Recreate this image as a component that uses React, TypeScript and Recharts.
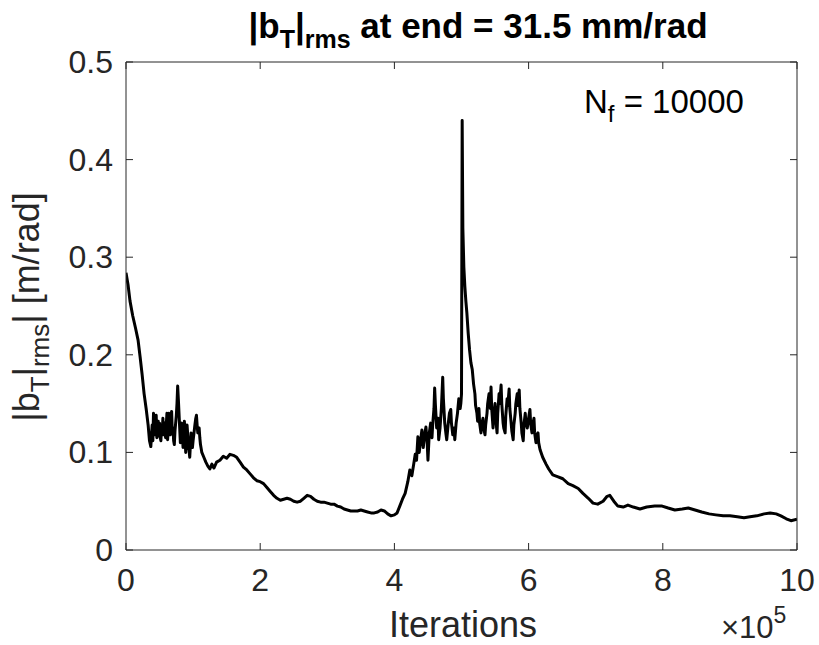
import React from "react";
import { LineChart, Line, XAxis, YAxis, Customized } from "recharts";

// Iterations in units of 1e5
const iterations = [
  0, 0.03, 0.06, 0.1, 0.14, 0.18, 0.21, 0.24, 0.27, 0.3, 0.33, 0.35,
  0.37, 0.38, 0.39, 0.4, 0.41, 0.42, 0.43, 0.44, 0.45, 0.46,
  0.47, 0.48, 0.49, 0.5, 0.51, 0.52, 0.53, 0.54, 0.55, 0.56,
  0.57, 0.58, 0.59, 0.6, 0.61, 0.62, 0.63, 0.64, 0.65, 0.66,
  0.67, 0.68, 0.69, 0.7, 0.71, 0.72, 0.73, 0.74, 0.75, 0.76,
  0.77, 0.78, 0.79, 0.8, 0.81, 0.82, 0.83, 0.84, 0.85, 0.86,
  0.87, 0.88, 0.89, 0.9, 0.91, 0.92, 0.93, 0.94, 0.95, 0.96,
  0.97, 0.98, 0.99, 1.0, 1.01, 1.02, 1.03, 1.04, 1.05, 1.06,
  1.07, 1.08, 1.09, 1.1, 1.11, 1.12, 1.13,
  1.16, 1.19, 1.22, 1.25, 1.28, 1.31, 1.35, 1.4, 1.45, 1.5,
  1.55, 1.6, 1.65, 1.7, 1.75, 1.8, 1.85, 1.9, 1.95, 2.0,
  2.05, 2.1, 2.15, 2.2, 2.25, 2.3, 2.35, 2.4, 2.45, 2.5,
  2.55, 2.6, 2.65, 2.7, 2.75, 2.8, 2.85, 2.9, 2.95, 3.0,
  3.05, 3.1, 3.15, 3.2, 3.25, 3.3, 3.35, 3.4, 3.45, 3.5,
  3.55, 3.6, 3.65, 3.7, 3.75, 3.8, 3.85, 3.9, 3.95, 4.0,
  4.04, 4.08, 4.12, 4.16, 4.2, 4.23, 4.26,
  4.29, 4.31, 4.33, 4.35, 4.37, 4.39, 4.41, 4.43, 4.45, 4.47,
  4.49, 4.5, 4.52, 4.54, 4.56, 4.57, 4.59, 4.6, 4.61, 4.63,
  4.65, 4.66, 4.68, 4.7, 4.72, 4.73, 4.75, 4.77, 4.78, 4.8,
  4.82, 4.84, 4.85, 4.87, 4.89, 4.9, 4.92, 4.94, 4.96, 4.98,
  4.99, 5.0, 5.01, 5.02, 5.035, 5.05, 5.065, 5.08, 5.1, 5.12,
  5.14, 5.16, 5.18, 5.2, 5.21, 5.23, 5.24, 5.26, 5.27, 5.29,
  5.3, 5.32, 5.33, 5.35, 5.36, 5.38, 5.39, 5.41, 5.43, 5.44,
  5.45, 5.47, 5.48, 5.5, 5.51, 5.53, 5.54, 5.56, 5.57, 5.59,
  5.6, 5.62, 5.63, 5.65, 5.66, 5.68, 5.69, 5.71, 5.72, 5.74,
  5.75, 5.77, 5.78, 5.8, 5.81, 5.83, 5.84, 5.86, 5.87, 5.89,
  5.9, 5.92, 5.93, 5.95, 5.96, 5.98, 6.0, 6.02, 6.03, 6.05,
  6.06, 6.08, 6.09, 6.11, 6.12, 6.14, 6.15, 6.17,
  6.21, 6.26, 6.3, 6.36, 6.44, 6.51, 6.59, 6.66, 6.74, 6.81,
  6.89, 6.96, 7.03, 7.11, 7.17, 7.21, 7.27, 7.33, 7.41, 7.48,
  7.56, 7.66, 7.76, 7.88, 7.99, 8.08, 8.18, 8.29, 8.38, 8.48,
  8.58, 8.69, 8.79, 8.9, 9.0, 9.11, 9.21, 9.3, 9.4, 9.51,
  9.6, 9.69, 9.76, 9.84, 9.91, 10.0,
];

// |b_T|_rms in m/rad
const bTrms = [
  0.284, 0.272, 0.255, 0.24, 0.228, 0.215, 0.198, 0.18, 0.16, 0.145, 0.128, 0.112,
  0.106, 0.118, 0.128, 0.112, 0.14, 0.125, 0.118, 0.135, 0.138, 0.115,
  0.118, 0.132, 0.125, 0.13, 0.115, 0.112, 0.128, 0.122, 0.135, 0.118,
  0.12, 0.13, 0.115, 0.128, 0.14, 0.113, 0.125, 0.14, 0.126, 0.118,
  0.135, 0.142, 0.12, 0.125, 0.112, 0.108, 0.122, 0.13, 0.138, 0.15,
  0.168, 0.155, 0.14, 0.125, 0.11, 0.122, 0.13, 0.118, 0.105, 0.12,
  0.132, 0.115, 0.1, 0.112, 0.128, 0.118, 0.108, 0.102, 0.095, 0.108,
  0.12, 0.112, 0.105, 0.112, 0.118, 0.124, 0.13, 0.135, 0.138, 0.128,
  0.12, 0.123, 0.125, 0.115, 0.108, 0.104, 0.1,
  0.095, 0.09, 0.086, 0.083, 0.088, 0.084, 0.09, 0.092, 0.096, 0.094,
  0.098, 0.097, 0.095, 0.09, 0.085, 0.082, 0.078, 0.074, 0.071, 0.07,
  0.068, 0.064, 0.06, 0.056, 0.053, 0.051, 0.052, 0.053, 0.052, 0.05,
  0.049, 0.05, 0.053, 0.056, 0.055, 0.052, 0.05, 0.049, 0.049, 0.048,
  0.047, 0.047, 0.045, 0.044, 0.042, 0.041, 0.04, 0.04, 0.04, 0.041,
  0.04, 0.039, 0.038, 0.038, 0.039, 0.041, 0.04, 0.037, 0.035, 0.036,
  0.038, 0.045, 0.052, 0.058, 0.07, 0.082, 0.076,
  0.089, 0.098, 0.092, 0.116, 0.1, 0.112, 0.123, 0.105, 0.118, 0.126,
  0.108, 0.092, 0.12, 0.13, 0.115, 0.128, 0.145, 0.166, 0.15, 0.125,
  0.135, 0.113, 0.125, 0.145, 0.177, 0.155, 0.13, 0.118, 0.113, 0.128,
  0.14, 0.144, 0.13, 0.118, 0.125, 0.113, 0.13, 0.14, 0.155, 0.145,
  0.15, 0.16, 0.44, 0.33, 0.29, 0.27, 0.255, 0.243, 0.222, 0.205,
  0.192, 0.185, 0.17, 0.16, 0.148, 0.14, 0.132, 0.145, 0.13, 0.12,
  0.128, 0.135, 0.125, 0.118, 0.128, 0.14, 0.15, 0.16, 0.145, 0.167,
  0.145, 0.125, 0.138, 0.15, 0.135, 0.12, 0.14, 0.16, 0.15, 0.169,
  0.15, 0.13, 0.125, 0.12, 0.138, 0.155, 0.148, 0.165, 0.145, 0.13,
  0.122, 0.113, 0.128, 0.14, 0.15, 0.16, 0.148, 0.164, 0.145, 0.13,
  0.12, 0.112, 0.128, 0.14, 0.13, 0.125, 0.135, 0.144, 0.13, 0.12,
  0.128, 0.135, 0.12, 0.11, 0.118, 0.12, 0.11, 0.103,
  0.095, 0.088, 0.083, 0.077, 0.075, 0.073, 0.068, 0.066, 0.063, 0.058,
  0.053, 0.048, 0.047, 0.05, 0.055, 0.056, 0.05, 0.045, 0.044, 0.046,
  0.044, 0.042, 0.044, 0.045, 0.045, 0.043, 0.041, 0.042, 0.043, 0.041,
  0.039, 0.037, 0.036, 0.035, 0.035, 0.034, 0.033, 0.034, 0.035, 0.037,
  0.038, 0.037, 0.035, 0.032, 0.03, 0.0315,
];

const xTicks = [0, 2, 4, 6, 8, 10];
const yTicks = [0, 0.1, 0.2, 0.3, 0.4, 0.5];

const n = Math.min(iterations.length, bTrms.length);
const data = iterations.slice(0, n).map((x, i) => ({ x, y: bTrms[i] }));

const AXIS = "#262626";
const FONT = "'Liberation Sans', Arial, Helvetica, sans-serif";
const TICK_FS = 32;
const TICK_LEN = 7;

const BottomTick = (p: any) => (
  <g>
    <line x1={p.x} y1={p.y} x2={p.x} y2={p.y - TICK_LEN} stroke={AXIS} strokeWidth={1} />
    <text x={p.x} y={p.y + 41} textAnchor="middle" fill={AXIS} fontSize={TICK_FS} fontFamily={FONT}>
      {String(p.payload.value)}
    </text>
  </g>
);
const TopTick = (p: any) => (
  <line x1={p.x} y1={p.y} x2={p.x} y2={p.y + TICK_LEN} stroke={AXIS} strokeWidth={1} />
);
const LeftTick = (p: any) => (
  <g>
    <line x1={p.x} y1={p.y} x2={p.x + TICK_LEN} y2={p.y} stroke={AXIS} strokeWidth={1} />
    <text x={p.x - 13} y={p.y + 11} textAnchor="end" fill={AXIS} fontSize={TICK_FS} fontFamily={FONT}>
      {String(p.payload.value)}
    </text>
  </g>
);
const RightTick = (p: any) => (
  <line x1={p.x} y1={p.y} x2={p.x - TICK_LEN} y2={p.y} stroke={AXIS} strokeWidth={1} />
);

const Annotations = () => (
  <g fontFamily={FONT}>
    <text x={478} y={38} textAnchor="middle" fontWeight="bold" fontSize={35} fill="#000">
      |b<tspan dy={10} fontSize={25}>T</tspan>
      <tspan dy={-10}>|</tspan>
      <tspan dy={10} fontSize={25}>rms</tspan>
      <tspan dy={-10}> at end = 31.5 mm/rad</tspan>
    </text>
    <text x={584} y={113} fontSize={33} fill="#000">
      N<tspan dy={9} fontSize={24}>f</tspan>
      <tspan dy={-9}> = 10000</tspan>
    </text>
    <text x={463} y={637} textAnchor="middle" fontSize={36} fill={AXIS}>
      Iterations
    </text>
    <text x={721} y={638} fontSize={31} fill={AXIS}>
      ×10<tspan dy={-15} fontSize={23}>5</tspan>
    </text>
    <text transform="translate(39,307) rotate(-90)" textAnchor="middle" fontSize={36} fill={AXIS}>
      |b<tspan dy={10} fontSize={26}>T</tspan>
      <tspan dy={-10}>|</tspan>
      <tspan dy={10} fontSize={26}>rms</tspan>
      <tspan dy={-10}>| [m/rad]</tspan>
    </text>
  </g>
);

export default function App() {
  return (
    <div style={{ position: "absolute", left: 0, top: 0, background: "#fff" }}>
      <LineChart width={819} height={645} data={data} margin={{ top: 61, right: 21, bottom: 94, left: 125 }}>
        <XAxis
          xAxisId="b"
          dataKey="x"
          type="number"
          domain={[0, 10]}
          ticks={xTicks}
          height={1}
          tickSize={0}
          tickMargin={0}
          tick={<BottomTick />}
          axisLine={{ stroke: AXIS, strokeWidth: 1 }}
          tickLine={false}
          allowDataOverflow
          interval={0}
        />
        <XAxis
          xAxisId="t"
          orientation="top"
          dataKey="x"
          type="number"
          domain={[0, 10]}
          ticks={xTicks}
          height={1}
          tickSize={0}
          tickMargin={0}
          tick={<TopTick />}
          axisLine={{ stroke: AXIS, strokeWidth: 1 }}
          tickLine={false}
          allowDataOverflow
          interval={0}
        />
        <YAxis
          yAxisId="l"
          type="number"
          domain={[0, 0.5]}
          ticks={yTicks}
          width={1}
          tickSize={0}
          tickMargin={0}
          tick={<LeftTick />}
          axisLine={{ stroke: AXIS, strokeWidth: 1 }}
          tickLine={false}
          allowDataOverflow
          interval={0}
        />
        <YAxis
          yAxisId="r"
          orientation="right"
          type="number"
          domain={[0, 0.5]}
          ticks={yTicks}
          width={1}
          tickSize={0}
          tickMargin={0}
          tick={<RightTick />}
          axisLine={{ stroke: AXIS, strokeWidth: 1 }}
          tickLine={false}
          allowDataOverflow
          interval={0}
        />
        <Line
          xAxisId="b"
          yAxisId="l"
          type="linear"
          dataKey="y"
          stroke="#000"
          strokeWidth={3}
          dot={false}
          isAnimationActive={false}
          strokeLinejoin="round"
        />
        <Customized component={Annotations} />
      </LineChart>
    </div>
  );
}
